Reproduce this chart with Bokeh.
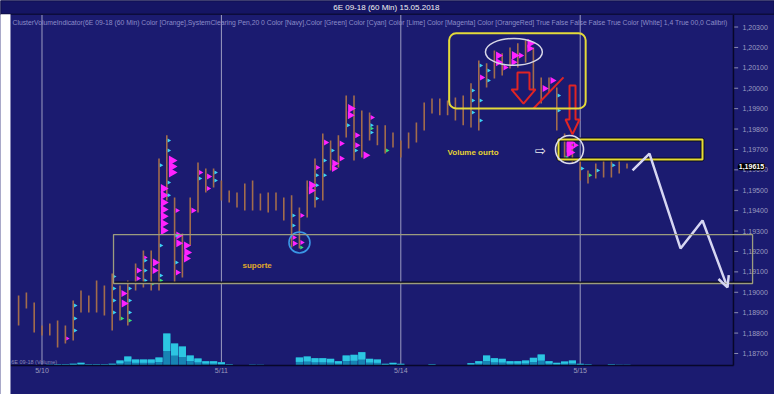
import numpy as np
from bokeh.plotting import figure
from bokeh.models import (Range1d, FixedTicker, BoxAnnotation, Label, Arrow, OpenHead,
                          CustomJSTickFormatter)
from bokeh.embed import file_html
from bokeh.resources import INLINE
from bokeh.core.properties import value

# 6E 09-18, 60-minute bars; index 0 = first bar of the 5/10 session
bar_index = list(range(-3, 76))
bar_high = [1.18984, 1.18999, 1.18950, 1.18837, 1.18847, 1.18862, 1.18837, 1.18960, 1.19009, 1.18984,
            1.19058, 1.19033, 1.19092, 1.19033, 1.19058, 1.19141, 1.19205, 1.19205, 1.19656, 1.19769,
            1.19465, 1.19288, 1.19465, 1.19636, 1.19607, 1.19607, 1.19548, 1.19499, 1.19489, 1.19533,
            1.19548, 1.19484, 1.19489, 1.19489, 1.19465, 1.19475, 1.19416, 1.19548, 1.19656, 1.19778,
            1.19744, 1.19769, 1.19965, 1.19965, 1.19891, 1.19881, 1.19818, 1.19818, 1.19783, 1.19744,
            1.19783, 1.19832, 1.19930, 1.19950, 1.19950, 1.19940, 1.19955, 1.19965, 1.20024, 1.20136,
            1.20122, 1.20185, 1.20171, 1.20200, 1.20220, 1.20234, 1.20200, 1.20053, 1.20053, 1.20004,
            1.19778, 1.19729, 1.19646, 1.19597, 1.19631, 1.19656, 1.19646, 1.19646, 1.19631]
bar_low = [1.18837, 1.18921, 1.18803, 1.18788, 1.18788, 1.18729, 1.18749, 1.18764, 1.18901, 1.18901,
           1.18901, 1.18886, 1.18813, 1.18862, 1.18837, 1.19009, 1.19024, 1.19009, 1.19009, 1.19450,
           1.19043, 1.19073, 1.19229, 1.19391, 1.19489, 1.19514, 1.19450, 1.19440, 1.19416, 1.19401,
           1.19401, 1.19401, 1.19391, 1.19401, 1.19352, 1.19220, 1.19215, 1.19367, 1.19416, 1.19450,
           1.19597, 1.19612, 1.19759, 1.19646, 1.19661, 1.19744, 1.19720, 1.19680, 1.19710, 1.19661,
           1.19705, 1.19734, 1.19793, 1.19876, 1.19867, 1.19867, 1.19842, 1.19818, 1.19808, 1.19793,
           1.20004, 1.20048, 1.20063, 1.20097, 1.20102, 1.20126, 1.19989, 1.19925, 1.19979, 1.19793,
           1.19646, 1.19631, 1.19548, 1.19533, 1.19558, 1.19563, 1.19563, 1.19582, 1.19607]
bar_volume = [0, 0, 0, 0,
              280, 400, 400, 680, 1080, 400, 400, 400, 680, 2000,
              3600, 2400, 2400, 2400, 3200, 12800, 8800, 7600, 4000, 2800,
              1720, 1720, 1320, 400, 200, 200, 280, 280, 120, 120,
              120, 120, 3200, 3600, 2920, 2920, 2680, 1720, 4000, 4280,
              5320, 2680, 2400, 680, 1080, 680, 120, 120, 120, 400,
              120, 120, 120, 120, 920, 1720, 4000, 2920, 2680, 1720,
              1720, 2000, 3080, 4400, 1720, 1080, 1600, 2000, 680, 400,
              120, 120, 400, 280, 280]

# volume-at-price clusters: bar, price level, contracts, colour class
cl_bar = [3, 10, 10, 12, 12, 13, 14, 14,
          15, 15, 15, 15, 15, 15, 15, 16, 16, 16,
          17, 17, 17, 17, 18, 18, 18, 19, 20, 21, 21,
          32, 32, 33, 33, 34, 34, 35, 36, 37, 37, 38, 38, 39, 39, 40, 40, 41, 42,
          56, 58, 58, 59, 60, 60, 61, 62, 62, 64, 65, 67, 67, 67, 68,
          4, 4, 4, 9, 9, 9, 9, 11, 11, 11, 13, 13, 13, 15, 15, 15, 16, 16, 16, 16,
          17, 17, 20, 22, 22, 32, 32, 35, 35, 35, 36, 36, 37, 39, 40, 42, 42,
          55, 55, 55, 56, 56, 56, 57, 57, 66, 66, 69, 71, 73,
          10, 11, 14, 15, 33, 42, 44, 67, 70]
cl_price = [1.18774, 1.18994, 1.18945, 1.19107, 1.19068, 1.19171, 1.19146, 1.19107,
            1.19509, 1.19475, 1.19440, 1.19406, 1.19372, 1.19337, 1.19303, 1.19646, 1.19617, 1.19587,
            1.19401, 1.19278, 1.19240, 1.19097, 1.19229, 1.19195, 1.19166, 1.19401, 1.19587, 1.19568, 1.19509,
            1.19269, 1.19239, 1.19376, 1.19244, 1.19524, 1.19499, 1.19612, 1.19734, 1.19631, 1.19607,
            1.19729, 1.19656, 1.19901, 1.19867, 1.19769, 1.19720, 1.19671, 1.19857,
            1.20053, 1.20161, 1.20127, 1.20102, 1.20161, 1.20127, 1.20161, 1.20220, 1.20195, 1.19999,
            1.20038, 1.19734, 1.19710, 1.19685, 1.19720,
            1.18935, 1.18872, 1.18813, 1.19077, 1.19019, 1.18960, 1.18901, 1.19019, 1.18960, 1.18901,
            1.19156, 1.19107, 1.19058, 1.19622, 1.19229, 1.19082, 1.19744, 1.19695, 1.19538, 1.19475,
            1.19278, 1.19146, 1.19558, 1.19587, 1.19548, 1.19376, 1.19327, 1.19573, 1.19524, 1.19460,
            1.19646, 1.19573, 1.19695, 1.19818, 1.19695, 1.19818, 1.19783,
            1.19989, 1.19940, 1.19881, 1.20112, 1.19940, 1.19842, 1.20087, 1.20038, 1.19965, 1.19891,
            1.19607, 1.19597, 1.19622,
            1.18872, 1.18862, 1.19043, 1.19058, 1.19220, 1.19803, 1.19695, 1.19661, 1.19573]
cl_volume = [240, 420, 480, 360, 300, 240, 480, 420,
             540, 540, 540, 540, 540, 540, 540, 600, 600, 600,
             300, 480, 480, 360, 480, 540, 480, 360, 300, 360, 300,
             300, 360, 300, 300, 540, 480, 300, 360, 480, 420, 360, 360, 540, 480, 360, 360, 480, 300,
             360, 480, 480, 360, 540, 420, 360, 540, 480, 420, 420, 600, 600, 600, 360] + [240] * 50 + [240] * 9
cl_kind = ["m"] * 62 + ["c"] * 50 + ["g"] * 9

price_ticks = [1.187, 1.188, 1.189, 1.190, 1.191, 1.192, 1.193, 1.194, 1.195, 1.196,
               1.197, 1.198, 1.199, 1.200, 1.201, 1.202, 1.203]
session_ticks = [0, 23, 46, 69]
session_labels = ["5/10", "5/11", "5/14", "5/15"]
last_price = 1.19615

NAVY = "#1b1b70"
FONT = "Liberation Sans"

# the whole canvas is the plot frame; the chart panel sits inside it
X0, X1 = -5.32, 93.91
Y0, Y1 = 1.18499, 1.20430
PANEL_L, PANEL_R = -4.04, 88.65
PANEL_B, PANEL_T = 1.18641, 1.20362

p = figure(width=774, height=394, output_backend="svg", toolbar_location=None,
           x_range=Range1d(X0, X1), y_range=Range1d(Y0, Y1),
           min_border_left=0, min_border_right=0, min_border_top=0, min_border_bottom=0,
           y_axis_location="right")
p.background_fill_color = NAVY
p.border_fill_color = NAVY
p.outline_line_color = None

# axes, labels drawn into the margin strips of the frame
p.yaxis.ticker = FixedTicker(ticks=price_ticks)
p.yaxis.formatter = CustomJSTickFormatter(code="return tick.toFixed(5).replace('.', ',');")
p.yaxis.major_label_text_font = FONT
p.yaxis.major_label_text_font_size = "7px"
p.yaxis.major_label_text_color = "#9c9cc0"
p.yaxis.major_label_standoff = -32
p.yaxis.major_tick_out = 0
p.yaxis.major_tick_in = 0
p.yaxis.major_tick_line_color = None
p.yaxis.minor_tick_line_color = None
p.yaxis.axis_line_color = None

p.xaxis.ticker = FixedTicker(ticks=session_ticks)
p.xaxis.major_label_overrides = {t: s for t, s in zip(session_ticks, session_labels)}
p.xaxis.major_label_text_font = FONT
p.xaxis.major_label_text_font_size = "7px"
p.xaxis.major_label_text_color = "#9c9cbc"
p.xaxis.major_label_standoff = -28
p.xaxis.major_tick_out = 0
p.xaxis.major_tick_in = 0
p.xaxis.major_tick_line_color = None
p.xaxis.minor_tick_line_color = None
p.xaxis.axis_line_color = None

p.xgrid.grid_line_color = None
p.ygrid.grid_line_color = None

# session separators
p.segment(x0=session_ticks, y0=PANEL_B, x1=session_ticks, y1=PANEL_T,
          line_color="#c8c8dc", line_alpha=0.75, line_width=1)
# price scale tick marks
p.segment(x0=PANEL_R, y0=price_ticks, x1=PANEL_R + 0.6, y1=price_ticks,
          line_color="#8c8cb4", line_width=1)

# volume histogram on its own scale at the foot of the panel
p.extra_y_ranges = {"vol": Range1d(-11600, 146000)}
vol = np.array(bar_volume, dtype=float)
p.vbar(x=bar_index, top=vol, bottom=0, width=0.92, y_range_name="vol",
       fill_color="#1784b4", line_color=None)
p.vbar(x=bar_index, top=vol, bottom=vol * 0.45, width=0.92, y_range_name="vol",
       fill_color="#2cc6e2", line_color=None)
p.text(x=[PANEL_L + 0.1], y=[1.18656], text=["6E 09-18 (Volume)"], text_font=value(FONT),
       text_font_size="5.5px", text_color="#8a8ab4", text_baseline="middle")

# price bars
p.segment(x0=bar_index, y0=bar_low, x1=bar_index, y1=bar_high,
          line_color="#a26c4c", line_width=1.6)

# cluster flags pointing right from each bar
px_per_bar = 774 / (X1 - X0)
colors = {"m": "#ff22ff", "c": "#3cd2f4", "g": "#36e07a"}
sizes = np.array(cl_volume) / 60.0
cx = np.array(cl_bar) + (sizes * 0.5) / px_per_bar
p.scatter(x=cx, y=cl_price, size=sizes, marker="triangle", angle=-np.pi / 2,
          fill_color=[colors[k] for k in cl_kind], line_color=None)

# chart panel borders
p.segment(x0=[PANEL_L, PANEL_R], y0=[PANEL_B, PANEL_B], x1=[PANEL_R, PANEL_R], y1=[PANEL_B, PANEL_T],
          line_color="#07072a", line_width=1.5)

# support zone
p.add_layout(BoxAnnotation(left=9.17, right=91.1, bottom=1.19043, top=1.19283,
                           fill_alpha=0, line_color="#9c9c7e", line_alpha=1, line_width=1.3))
p.segment(x0=[9.17], y0=[1.19049], x1=[91.0], y1=[1.19049], line_color="#050518", line_width=1.5)
p.text(x=[25.7], y=[1.19131], text=["suporte"], text_font=value(FONT), text_font_style="bold",
       text_font_size="8px", text_color="#e0aa2a", text_baseline="middle")
p.scatter(x=[33.01], y=[1.19244], size=21, marker="circle", fill_alpha=0,
          line_color="#3a96e6", line_width=1.6)

# distribution top
p.add_layout(BoxAnnotation(left=52.2, right=69.7, bottom=1.19901, top=1.20269, fill_alpha=0,
                           line_color="#e4da3a", line_alpha=1, line_width=2, border_radius=7))
p.ellipse(x=[60.5], y=[1.20178], width=7.3, height=0.00132, fill_alpha=0,
          line_color="#d6d6e6", line_width=1.5)
p.patch(x=[60.96, 62.5, 62.5, 63.27, 61.73, 60.19, 60.96],
        y=[1.20077, 1.20077, 1.19994, 1.19994, 1.19925, 1.19994, 1.19994],
        fill_alpha=0, line_color="#e02424", line_width=2)
p.line(x=[63.01, 66.86], y=[1.19901, 1.20053], line_color="#e02424", line_width=2)
p.patch(x=[67.63, 68.4, 68.4, 68.91, 68.01, 67.12, 67.63],
        y=[1.20014, 1.20014, 1.19847, 1.19847, 1.19774, 1.19847, 1.19847],
        fill_alpha=0, line_color="#e02424", line_width=2)

# low-volume shelf
p.quad(left=[66.22], right=[84.68], bottom=[1.19651], top=[1.19749], fill_alpha=0,
       line_color="#0a0a20", line_width=4)
p.quad(left=[66.22], right=[84.68], bottom=[1.19651], top=[1.19749], fill_alpha=0,
       line_color="#e6dc34", line_width=2)
p.scatter(x=[67.63], y=[1.19700], size=28, marker="circle", fill_alpha=0,
          line_color="#dcdcec", line_width=1.6)
p.text(x=[63.9], y=[1.19695], text=["\u21e8"], text_font=value("DejaVu Sans"),
       text_font_size="13px", text_color="#f0f0f0", text_align="center", text_baseline="middle")
p.text(x=[52.0], y=[1.19685], text=["Volume ourto"], text_font=value(FONT), text_font_style="bold",
       text_font_size="8px", text_color="#e6d232", text_baseline="middle")

# projected path
path_x = [75.71, 77.88, 81.86, 84.68, 87.88]
path_y = [1.19597, 1.19680, 1.19215, 1.19352, 1.19024]
p.line(x=path_x, y=path_y, line_color="#d6d6f2", line_width=2.5)
p.add_layout(Arrow(end=OpenHead(size=11, line_color="#d6d6f2", line_width=2.5),
                   x_start=path_x[-2], y_start=path_y[-2], x_end=path_x[-1], y_end=path_y[-1],
                   line_alpha=0))

# header bar, indicator line and left page margin
p.add_layout(BoxAnnotation(left=None, right=None, bottom=PANEL_T, top=None,
                           fill_color="#151564", fill_alpha=1, line_color="#0c0c3c",
                           line_alpha=1, line_width=1.5))
p.add_layout(BoxAnnotation(left=None, right=PANEL_L, bottom=None, top=PANEL_T,
                           fill_color="white", fill_alpha=1, line_color=None))
p.add_layout(Label(x=44.29, y=1.20396, text="6E 09-18 (60 Min)  15.05.2018", text_font=FONT,
                   text_font_size="8px", text_color="#f2f2f2", text_align="center",
                   text_baseline="middle"))
p.add_layout(Label(x=-3.78, y=1.20323,
                   text="ClusterVolumeIndicator(6E 09-18 (60 Min) Color [Orange],SystemClearing Pen,20 0 "
                        "Color [Navy],Color [Green] Color [Cyan] Color [Lime] Color [Magenta] Color [OrangeRed] "
                        "True False False False True Color [White] 1,4 True 00,0 Calibri)",
                   text_font=FONT, text_font_size="6.8px", text_color="#8c8cc8",
                   text_baseline="middle"))

# last price marker on the price scale
p.add_layout(Label(x=89.2, y=last_price,
                   text=f"{last_price:.5f}".replace(".", ","), text_font=FONT,
                   text_font_size="7px", text_font_style="bold", text_color="white",
                   background_fill_color="black", border_radius=3, text_baseline="middle",
                   padding=1))

open("out.html", "w").write(file_html(p, INLINE))
